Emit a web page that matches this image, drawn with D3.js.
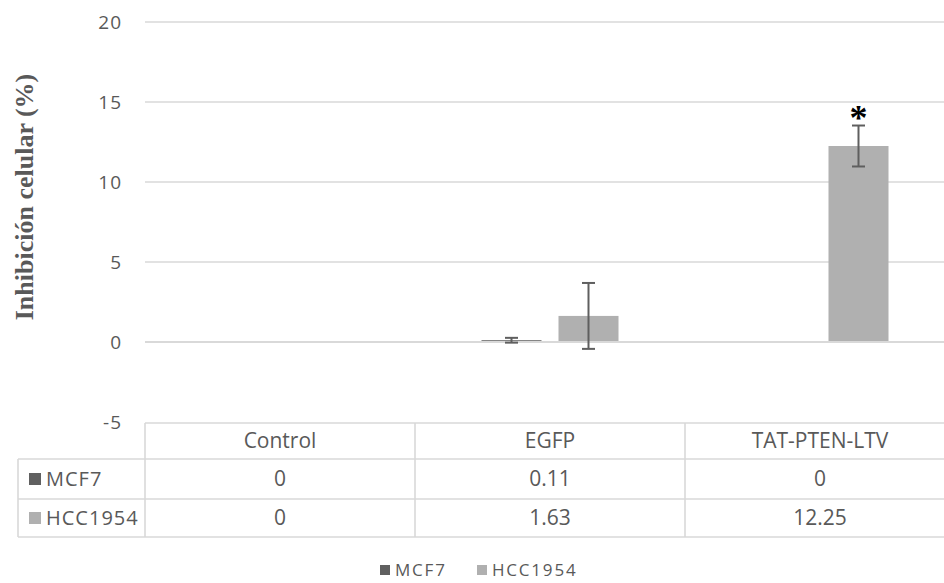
<!DOCTYPE html>
<html><head><meta charset="utf-8">
<script src="https://cdn.jsdelivr.net/npm/d3@7"></script>
<style>
html,body{margin:0;padding:0;background:#fff;}
text{font-family:"Open Sans",sans-serif;}
</style></head>
<body><svg id="c" width="944" height="583"></svg>
<script>
const categories = ["Control", "EGFP", "TAT-PTEN-LTV"];
const series = ["MCF7", "HCC1954"];
const mcf7Values = [0, 0.11, 0];
const hcc1954Values = [0, 1.63, 12.25];
const mcf7Errors = [0, 0.15, 0];
const hcc1954Errors = [0, 2.06, 1.28];
const tableLabels = [["0", "0.11", "0"], ["0", "1.63", "12.25"]];
const yTicks = [-5, 0, 5, 10, 15, 20];
const significant = [{category: "TAT-PTEN-LTV", series: "HCC1954", mark: "*"}];
const colors = {MCF7: "#606060", HCC1954: "#b0b0b0"};

const values = {MCF7: mcf7Values, HCC1954: hcc1954Values};
const errors = {MCF7: mcf7Errors, HCC1954: hcc1954Errors};

const svg = d3.select("#c");
const grey = "#595959", grid = "#d9d9d9";

const y = d3.scaleLinear().domain([-5, 20]).range([422, 22]);
const x0 = d3.scaleBand().domain(categories).range([145, 955]);
const x1 = d3.scaleBand().domain(series).range([66.5, 203.5]).paddingInner(17/77);

// gridlines
svg.append("g").selectAll("line").data(yTicks.filter(t => t > 0)).join("line")
  .attr("x1", 145).attr("x2", 944).attr("y1", d => y(d)).attr("y2", d => y(d))
  .attr("stroke", grid).attr("stroke-width", 1.4);

// y axis
const yAxis = d3.axisLeft(y).tickValues(yTicks).tickFormat(d => String(d)).tickSize(0).tickPadding(0);
const ga = svg.append("g").attr("transform", "translate(122,0)").call(yAxis);
ga.select(".domain").remove();
ga.selectAll("text").attr("fill", grey).style("font-family", "'Open Sans',sans-serif")
  .attr("font-size", 19).attr("letter-spacing", 1).attr("dy", "0.34em");

// y title
svg.append("text").attr("transform", "translate(33,197) rotate(-90)")
  .attr("text-anchor", "middle").attr("fill", grey)
  .style("font-family", "'Liberation Serif','Times New Roman',serif")
  .attr("font-weight", "bold").attr("font-size", 26)
  .text("Inhibición celular (%)");

// bars
const barData = [];
categories.forEach((c, i) => series.forEach(s => barData.push({c, s, v: values[s][i], e: errors[s][i]})));
svg.append("g").selectAll("rect").data(barData).join("rect")
  .attr("x", d => x0(d.c) + x1(d.s)).attr("width", x1.bandwidth())
  .attr("y", d => y(Math.max(0, d.v))).attr("height", d => Math.abs(y(d.v) - y(0)))
  .attr("fill", d => colors[d.s]);

// zero axis line (on top of bars)
svg.append("line").attr("x1", 145).attr("x2", 944).attr("y1", y(0)).attr("y2", y(0))
  .attr("stroke", grid).attr("stroke-width", 2);

// error bars
const eb = svg.append("g").attr("stroke", "#5f5f5f").attr("stroke-width", 2);
barData.filter(d => d.e > 0).forEach(d => {
  const cx = x0(d.c) + x1(d.s) + x1.bandwidth()/2;
  eb.append("line").attr("x1", cx).attr("x2", cx).attr("y1", y(d.v + d.e)).attr("y2", y(d.v - d.e));
  [d.v + d.e, d.v - d.e].forEach(v => eb.append("line").attr("x1", cx - 6.5).attr("x2", cx + 6.5).attr("y1", y(v)).attr("y2", y(v)));
});

// significance
significant.forEach(sg => {
  const d = barData.find(b => b.c === sg.category && b.s === sg.series);
  const cx = x0(d.c) + x1(d.s) + x1.bandwidth()/2;
  svg.append("text").attr("x", cx).attr("y", y(d.v + d.e) + 4).attr("text-anchor", "middle")
    .style("font-family", "'Liberation Serif',serif").attr("font-weight", "bold")
    .attr("font-size", 36).attr("fill", "#000").text(sg.mark);
});

// data table
const rowsY = [423, 459, 499, 537];
const tb = svg.append("g").attr("stroke", grid).attr("stroke-width", 1.6);
tb.append("line").attr("x1", 145).attr("x2", 944).attr("y1", rowsY[0]).attr("y2", rowsY[0]);
[1, 2, 3].forEach(i => tb.append("line").attr("x1", 18).attr("x2", 944).attr("y1", rowsY[i]).attr("y2", rowsY[i]));
tb.append("line").attr("x1", 18).attr("x2", 18).attr("y1", rowsY[1]).attr("y2", rowsY[3]);
categories.forEach(c => tb.append("line").attr("x1", x0(c)).attr("x2", x0(c)).attr("y1", rowsY[0]).attr("y2", rowsY[3]));

const fs = 21;
svg.append("g").selectAll("text").data(categories).join("text")
  .attr("x", d => x0(d) + x0.bandwidth()/2).attr("y", (rowsY[0] + rowsY[1])/2).attr("dy", "0.35em")
  .attr("text-anchor", "middle").attr("fill", grey).attr("font-size", fs).text(d => d);

series.forEach((s, r) => {
  const cy = (rowsY[r+1] + rowsY[r+2]) / 2;
  svg.append("rect").attr("x", 29).attr("y", cy - 6).attr("width", 12).attr("height", 12).attr("fill", colors[s]);
  svg.append("text").attr("x", 46).attr("y", cy).attr("dy", "0.35em").attr("fill", grey)
    .attr("font-size", 20).attr("letter-spacing", 1).text(s);
  svg.append("g").selectAll("text").data(categories).join("text")
    .attr("x", d => x0(d) + x0.bandwidth()/2).attr("y", cy).attr("dy", "0.35em")
    .attr("text-anchor", "middle").attr("fill", grey).attr("font-size", fs)
    .text((d, i) => tableLabels[r][i]);
});

// legend
const lg = svg.append("g").attr("transform", "translate(380,570)");
const legX = [0, 97];
series.forEach((s, i) => {
  lg.append("rect").attr("x", legX[i]).attr("y", -5).attr("width", 10).attr("height", 10).attr("fill", colors[s]);
  lg.append("text").attr("x", legX[i] + 15).attr("y", 0).attr("dy", "0.35em").attr("fill", grey)
    .attr("font-size", 17).attr("letter-spacing", 1.8).text(s);
});
</script></body></html>
